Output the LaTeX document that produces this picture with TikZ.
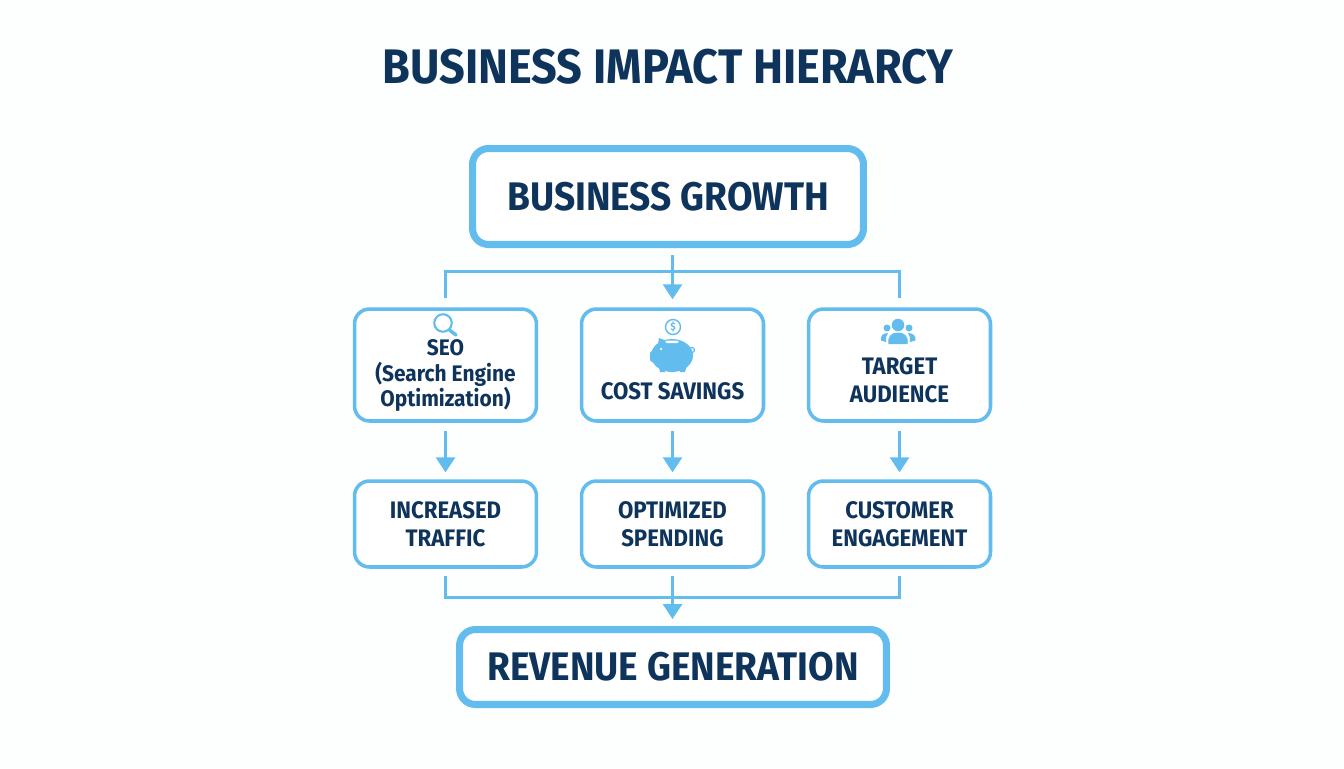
\documentclass[tikz,border=0pt]{standalone}
\usepackage{fontspec}
\setmainfont{Fira Sans}[FakeStretch=0.93]
\usetikzlibrary{arrows.meta}
\definecolor{skyline}{HTML}{62BDEE}
\definecolor{navytext}{HTML}{0F345C}
\definecolor{paperbg}{HTML}{FDFEFE}
\tikzset{
  bigbox/.style={draw=skyline, line width=4pt, rounded corners=0.32cm, fill=white, align=center, text=navytext, font=\fontsize{22.7}{27}\selectfont\bfseries},
  smallbox/.style={draw=skyline, line width=2pt, rounded corners=0.3cm, fill=white, align=center, text=navytext, minimum width=3.64cm, font=\fontsize{13.6}{16}\selectfont\bfseries},
  link/.style={draw=skyline, line width=1.7pt},
  flow/.style={link, -{Triangle[width=0.38cm, length=0.3cm]}},
}
\begin{document}
\begin{tikzpicture}[x=0.02cm, y=-0.02cm]
  \useasboundingbox[fill=paperbg] (0, 0) rectangle (1344, 768);
  \node[text=navytext, font=\fontsize{27.6}{32}\selectfont\bfseries] (title) at (668, 67) {BUSINESS IMPACT HIERARCY};
  % boxes
  \node[bigbox, minimum width=7.82cm, minimum height=1.92cm] (growth) at (668, 196.5) {BUSINESS GROWTH};
  \node[smallbox, minimum height=2.24cm, font=\fontsize{12.8}{14.5}\selectfont\bfseries] (seo) at (445.5, 365) {\mbox{}\\[7pt]SEO\\(Search Engine\\Optimization)};
  \node[smallbox, minimum height=2.24cm] (savings) at (672.5, 365) {\mbox{}\\[23pt]COST SAVINGS};
  \node[smallbox, minimum height=2.24cm] (audience) at (899.5, 365) {\mbox{}\\[11pt]TARGET\\AUDIENCE};
  \node[smallbox, minimum height=1.72cm] (traffic) at (445.5, 524) {INCREASED\\TRAFFIC};
  \node[smallbox, minimum height=1.72cm] (spending) at (672.5, 524) {OPTIMIZED\\SPENDING};
  \node[smallbox, minimum height=1.72cm] (engagement) at (899.5, 524) {CUSTOMER\\ENGAGEMENT};
  \node[bigbox, minimum width=8.54cm, minimum height=1.5cm] (revenue) at (673, 667) {REVENUE GENERATION};
  % connectors
  \coordinate (topbus) at (672.5, 271);
  \coordinate (lowbus) at (672.5, 597);
  \draw[link, shorten <=0.18cm, shorten >=0.18cm] (seo.north) |- (topbus) -| (audience.north);
  \draw[flow, shorten <=0.14cm, shorten >=0.16cm] (growth.south -| savings.north) -- (savings.north);
  \draw[flow, shorten <=0.16cm, shorten >=0.14cm] (seo) -- (traffic);
  \draw[flow, shorten <=0.16cm, shorten >=0.14cm] (savings) -- (spending);
  \draw[flow, shorten <=0.16cm, shorten >=0.14cm] (audience) -- (engagement);
  \draw[link, shorten <=0.14cm, shorten >=0.14cm] (traffic.south) |- (lowbus) -| (engagement.south);
  \draw[flow, shorten <=0.14cm, shorten >=0.14cm] (spending.south) -- (revenue.north -| spending.south);
  % magnifier
  \draw[skyline, line width=1.2pt] (443, 323) circle (0.175cm);
  \draw[skyline, line width=2pt, line cap=round] (449.5, 330) -- (456, 335);
  % piggy bank
  \draw[skyline, line width=0.8pt] (673, 327) circle (0.15cm);
  \node[text=skyline, font=\fontsize{6}{7}\selectfont\bfseries] (coin) at (673, 327) {\$};
  \fill[skyline] (672, 355.5) ellipse (0.42cm and 0.33cm);
  \fill[skyline] (659, 338) -- (667, 341) -- (657, 350) -- cycle;
  \fill[skyline, rounded corners=1pt] (650, 351) rectangle (660, 362);
  \fill[skyline] (658, 362) -- (667, 362) -- (665, 372) -- (660, 372) -- cycle;
  \fill[skyline] (678, 362) -- (688, 362) -- (685, 372) -- (680, 372) -- cycle;
  \draw[skyline, line width=0.7pt] (692, 350) circle (0.05cm);
  \fill[white, rounded corners=1pt] (665, 340.5) rectangle (679, 343);
  \fill[white] (661, 349) circle (0.025cm);
  % people
  \fill[skyline] (898, 325) circle (0.125cm);
  \fill[skyline] (887, 328) circle (0.07cm);
  \fill[skyline] (909, 328) circle (0.07cm);
  \fill[skyline] (888.5, 344) .. controls (887, 336) and (892, 332.5) .. (898, 332.5) .. controls (904, 332.5) and (909, 336) .. (907.5, 344) -- cycle;
  \fill[skyline] (886, 342) -- (881, 340.5) .. controls (880, 336) and (883, 333) .. (888, 333) .. controls (886, 336) and (885.5, 339) .. (886, 342) -- cycle;
  \fill[skyline] (910, 342) -- (915.5, 340.5) .. controls (916.5, 336) and (913, 333) .. (908, 333) .. controls (910, 336) and (910.5, 339) .. (910, 342) -- cycle;
\end{tikzpicture}
\end{document}
